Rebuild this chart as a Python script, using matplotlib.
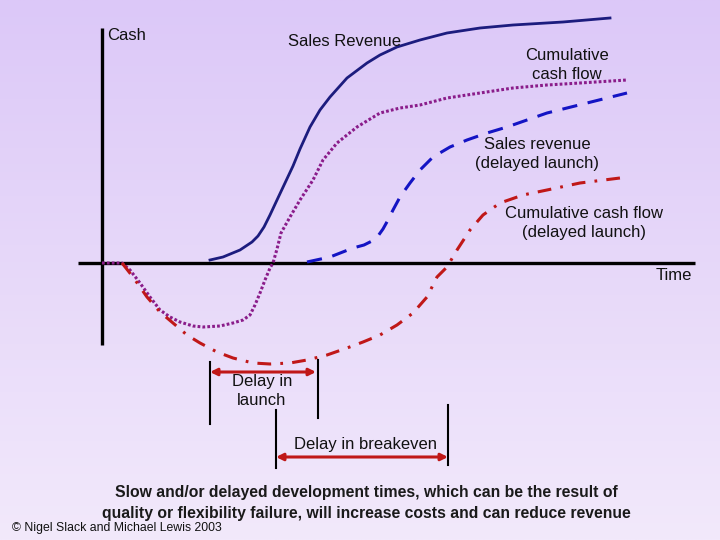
import numpy as np
import matplotlib
matplotlib.use("Agg")
from matplotlib import pyplot as plt

plt.rcParams['font.family'] = ['Liberation Sans', 'DejaVu Sans']

# time (x) and cash (y) units, origin at the axes crossing
sales_t = [108, 121, 138, 150, 156, 162, 168, 175, 183, 191, 198, 208, 218, 228, 245, 265, 278, 295, 318, 345, 378, 411, 461, 508]
sales_c = [3, 6, 13, 21, 27, 36, 48, 63, 80, 97, 114, 136, 153, 166, 185, 200, 208, 216, 223, 230, 235, 238, 241, 245]

cum_t = [0, 20, 28, 38, 48, 58, 68, 78, 91, 101, 118, 131, 141, 148, 153, 158, 163, 168, 171,
         175, 179, 188, 198, 211, 221, 235, 255, 278, 298, 318, 345, 378, 411, 445, 478, 525]
cum_c = [0, 0, -7, -20, -34, -47, -54, -59, -63, -64, -63, -60, -57, -52, -42, -30, -17, -5, 0,
         14, 30, 46, 63, 83, 103, 120, 136, 150, 155, 158, 165, 170, 175, 178, 180, 183]

slow_t = [205, 228, 251, 262, 270, 276, 281, 286, 291, 298, 308, 318, 331, 348, 365, 385, 405, 425, 445, 465, 485, 525]
slow_c = [1, 6, 15, 18, 22, 27, 34, 43, 53, 66, 80, 93, 106, 116, 123, 130, 136, 143, 150, 155, 160, 170]

late_t = [20, 31, 45, 58, 71, 85, 98, 115, 131, 151, 168, 188, 205, 225, 245, 261, 278, 295, 311, 325, 335,
          345, 355, 368, 381, 398, 421, 445, 478, 518]
late_c = [0, -14, -34, -49, -60, -72, -80, -89, -95, -100, -101, -100, -97, -92, -85, -79, -72, -62, -50, -34, -14,
          -4, 13, 33, 48, 60, 68, 73, 80, 85]

launch_gap = [108, 214]       # start of revenue vs delayed start
breakeven_gap = [174, 346]   # breakeven vs delayed breakeven
launch_ticks = [(108, -99, -161), (216, -97, -155)]
breakeven_ticks = [(174, -147, -205), (346, -142, -202)]

fig = plt.figure(figsize=(7.2, 5.4), dpi=100)
ax = fig.add_axes([0, 0, 1, 1])
ax.set_xlim(-102, 618)
ax.set_ylim(-277, 263)
ax.axis("off")

# lavender background, darker at top
top = np.array([220, 200, 248]) / 255
bot = np.array([242, 233, 251]) / 255
g = np.linspace(0, 1, 256)[:, None]
grad = top[None, :] * (1 - g) + bot[None, :] * g
ax.imshow(grad[:, None, :].repeat(2, axis=1), extent=(-102, 618, -277, 263),
          aspect="auto", zorder=0)

# axes
ax.plot([-24, 593], [0, 0], color="black", lw=2.4, zorder=2, solid_capstyle="butt")
ax.plot([0, 0], [235, -82], color="black", lw=2.4, zorder=2, solid_capstyle="butt")

ax.plot(sales_t, sales_c, color="#1c1c7e", lw=2.0, zorder=3)
ax.plot(cum_t, cum_c, color="#8a1c8a", lw=2.2, ls=(0, (0.9, 0.7)), zorder=3)
ax.plot(slow_t, slow_c, color="#1414c4", lw=2.2, ls=(0, (5, 3.5)), zorder=3)
ax.plot(late_t, late_c, color="#c01818", lw=2.2, ls=(0, (4.5, 3, 0.9, 3)), zorder=3)

for x, y0, y1 in launch_ticks + breakeven_ticks:
    ax.plot([x, x], [y0, y1], color="black", lw=1.5, zorder=2)

ax.annotate("", xy=(launch_gap[1], -109), xytext=(launch_gap[0], -109),
            arrowprops=dict(arrowstyle="<|-|>", color="#c01818", lw=2.2,
                            mutation_scale=10, shrinkA=0, shrinkB=0))
ax.annotate("", xy=(breakeven_gap[1], -194), xytext=(breakeven_gap[0], -194),
            arrowprops=dict(arrowstyle="<|-|>", color="#c01818", lw=2.2,
                            mutation_scale=10, shrinkA=0, shrinkB=0))

fs = 12
tc = "#111111"
ls = 1.38
ax.text(5, 227, "Cash", fontsize=fs, ha="left", va="center", color=tc)
ax.text(243, 221, "Sales Revenue", fontsize=fs, ha="center", va="center", color=tc)
ax.text(465, 198, "Cumulative\ncash flow", fontsize=fs, ha="center", va="center",
        linespacing=ls, color=tc)
ax.text(435, 109, "Sales revenue\n(delayed launch)", fontsize=fs, ha="center",
        va="center", linespacing=ls, color=tc)
ax.text(482, 40, "Cumulative cash flow\n(delayed launch)", fontsize=fs, ha="center",
        va="center", linespacing=ls, color=tc)
ax.text(572, -13, "Time", fontsize=fs, ha="center", va="center", color=tc)
ax.text(160, -128, "Delay in\nlaunch", fontsize=fs, ha="center", va="center",
        linespacing=ls, color=tc)
ax.text(264, -181, "Delay in breakeven", fontsize=fs, ha="center", va="center", color=tc)

ax.text(264, -240, "Slow and/or delayed development times, which can be the result of\n"
        "quality or flexibility failure, will increase costs and can reduce revenue",
        fontsize=11.3, fontweight="bold", ha="center", va="center", linespacing=1.45,
        color="#1a1a1a")
ax.text(-90, -264.5, "© Nigel Slack and Michael Lewis 2003", fontsize=8.8,
        ha="left", va="center", color=tc)

fig.savefig("out.png", dpi=100)
